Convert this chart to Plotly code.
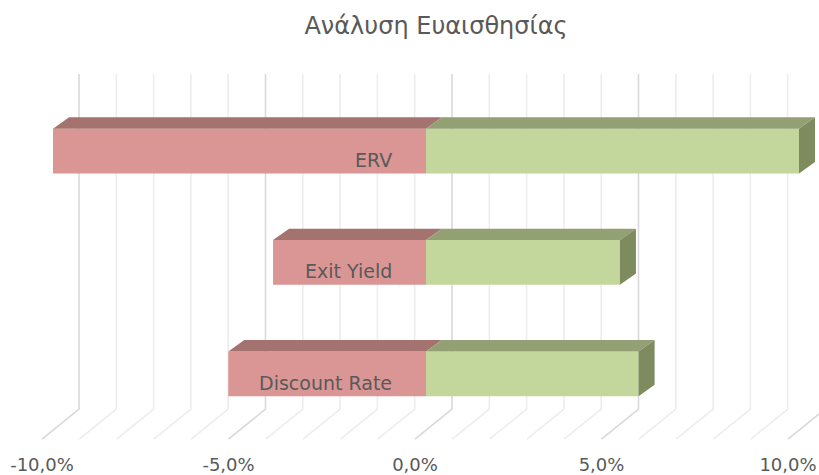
import plotly.graph_objects as go

# ---------------- data ----------------
categories = ["Discount Rate", "Exit Yield", "ERV"]
downside = [-5.3, -4.1, -10.0]
upside = [5.7, 5.2, 10.0]
tick_values = [-10, -5, 0, 5, 10]
tick_labels = ["-10,0%", "-5,0%", "0,0%", "5,0%", "10,0%"]
grid_values = list(range(-10, 11))
title_text = "Ανάλυση Ευαισθησίας"

# ---------------- geometry (pixel based helpers) ----------------
W, H = 819, 475
PX_X = 37.3      # px per percent
PX_Y = 112.0     # px per category step
ZERO_PX = 415    # zero of the front floor edge
FRONT_PY = 375.5 # centre of first category front face
MT, MB = 60, 25

x_left = -ZERO_PX / PX_X
x_right = (W - ZERO_PX) / PX_X
y_bottom = (FRONT_PY - (H - MB)) / PX_Y
y_top = (FRONT_PY - MT) / PX_Y

bf = 11 / PX_X            # bar front plane offset from floor front
ddx = 16 / PX_X           # bar depth (x)
ddy = 11.5 / PX_Y         # bar depth (y)
half = 22.5 / PX_Y        # half bar height
wall_dx = 37 / PX_X
wall_top = (FRONT_PY - 74) / PX_Y
wall_bot = (FRONT_PY - 411) / PX_Y
floor_y = (FRONT_PY - 441) / PX_Y

ypos = list(range(len(categories)))

fig = go.Figure()

# ---------------- gridlines (wall + floor), drawn below traces ----------------
for v in grid_values:
    col = "#d9d9d9" if v % 5 == 0 else "#ededed"
    fig.add_shape(type="path", xref="x", yref="y", layer="below",
                  path=f"M {v + wall_dx},{wall_top} L {v + wall_dx},{wall_bot} L {v},{floor_y}",
                  line=dict(color=col, width=1.6))

# ---------------- front faces ----------------
fig.add_trace(go.Bar(
    y=ypos, x=downside, base=[bf] * len(ypos), orientation="h",
    width=2 * half, marker=dict(color="#D99694", line=dict(width=0)),
    showlegend=False, name="Downside"))
fig.add_trace(go.Bar(
    y=ypos, x=upside, base=[bf] * len(ypos), orientation="h",
    width=2 * half, marker=dict(color="#C3D69B", line=dict(width=0)),
    showlegend=False, name="Upside"))

# ---------------- top faces ----------------
def top_poly(vals):
    xs, ys = [], []
    for k, v in zip(ypos, vals):
        xs += [bf + v, bf, bf + ddx, bf + v + ddx, None]
        ys += [k + half, k + half, k + half + ddy, k + half + ddy, None]
    return xs, ys

for vals, col in ((downside, "#A5736F"), (upside, "#93A073")):
    xs, ys = top_poly(vals)
    fig.add_trace(go.Scatter(
        x=xs, y=ys, mode="lines", fill="toself", fillcolor=col,
        line=dict(width=0, color=col), hoverinfo="skip", showlegend=False))

# ---------------- right side faces (green) ----------------
xs, ys = [], []
for k, v in zip(ypos, upside):
    xr = bf + v
    xs += [xr, xr, xr + ddx, xr + ddx, None]
    ys += [k - half, k + half, k + half + ddy, k - half + ddy, None]
fig.add_trace(go.Scatter(
    x=xs, y=ys, mode="lines", fill="toself", fillcolor="#7E8B5F",
    line=dict(width=0, color="#7E8B5F"), hoverinfo="skip", showlegend=False))

# ---------------- category labels ----------------
for k, name in zip(ypos, categories):
    fig.add_annotation(
        x=bf - 32 / PX_X, y=k - 9 / PX_Y, text=name, showarrow=False,
        xanchor="right", yanchor="middle",
        font=dict(family="DejaVu Sans", size=19, color="#595959"))

fig.update_layout(
    width=W, height=H,
    margin=dict(l=0, r=0, t=MT, b=MB, pad=0),
    paper_bgcolor="white", plot_bgcolor="white",
    barmode="overlay",
    showlegend=False,
    title=dict(text=title_text, x=436 / W, xanchor="center",
               y=1 - 26 / H, yanchor="middle", yref="container",
               font=dict(family="DejaVu Sans", size=24, color="#595959")),
    xaxis=dict(range=[x_left, x_right], tickvals=tick_values,
               ticktext=tick_labels, showgrid=False, zeroline=False,
               showline=False, ticks="", fixedrange=True,
               ticklabelstandoff=4,
               tickfont=dict(family="DejaVu Sans", size=18, color="#595959")),
    yaxis=dict(range=[y_bottom, y_top], visible=False, fixedrange=True),
)

fig.write_html("out.html", config={"displayModeBar": False},
               post_script="document.body.style.margin='0';document.body.style.overflow='hidden';")
